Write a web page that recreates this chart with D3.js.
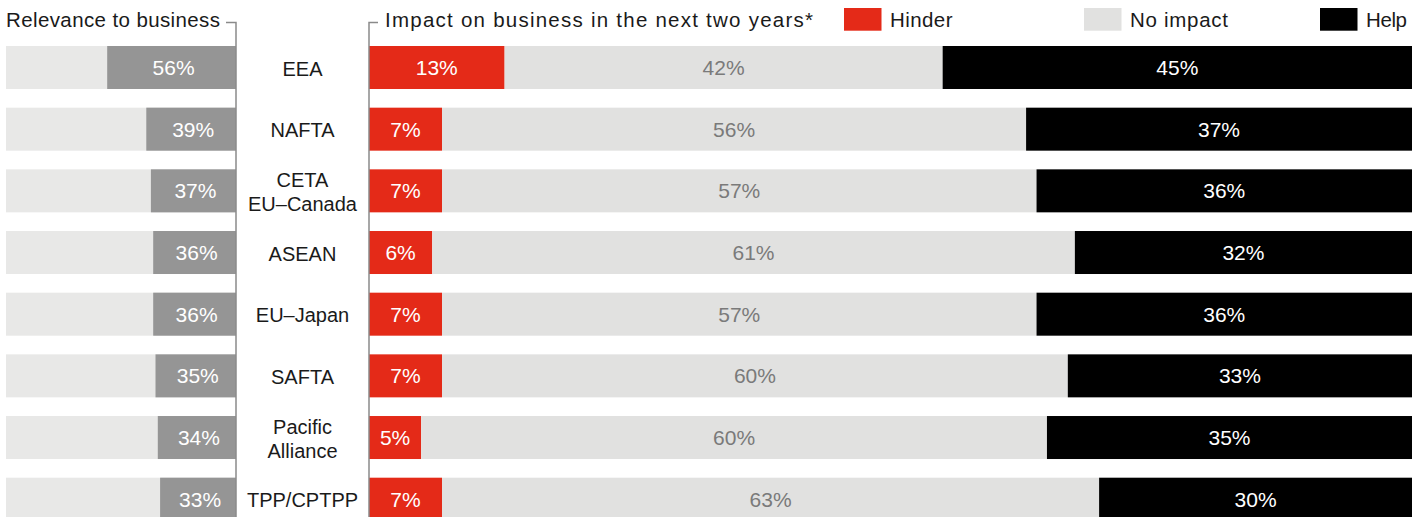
<!DOCTYPE html>
<html><head><meta charset="utf-8">
<script src="https://cdn.jsdelivr.net/npm/d3@7"></script>
<style>
html,body{margin:0;padding:0;background:#fff;}
svg{display:block;font-family:"Liberation Sans",Arial,sans-serif;}
</style></head>
<body><svg id="c" width="1425" height="517"></svg>
<script>
const categories = ["EEA","NAFTA","CETA\nEU–Canada","ASEAN","EU–Japan","SAFTA","Pacific\nAlliance","TPP/CPTPP"];
const relevance = [56,39,37,36,36,35,34,33];
const hinder    = [13,7,7,6,7,7,5,7];
const noImpact  = [42,56,57,61,57,60,60,63];
const help      = [45,37,36,32,36,33,35,30];
const seriesNames = ["Hinder","No impact","Help"];
const seriesColors = ["#e42a18","#e1e1e0","#000000"];
const labelColors = ["#ffffff","#7a7a7a","#ffffff"];

const svg = d3.select("#c");
const step = 61.67, pad = 0.3027;
const y = d3.scaleBand().domain(categories)
  .range([46, 46 + step*(categories.length - pad)]).paddingInner(pad).paddingOuter(0);
const bh = y.bandwidth();

// Left chart: relevance
const xL = d3.scaleLinear().domain([0,100]).range([236, 6]);
const gL = svg.append("g");
gL.selectAll("rect.bg").data(categories).join("rect")
  .attr("x", xL(100)).attr("y", d=>y(d)).attr("width", xL(0)-xL(100)).attr("height", bh)
  .attr("fill","#e8e8e7");
gL.selectAll("rect.v").data(relevance).join("rect")
  .attr("x", d=>xL(d)).attr("y", (d,i)=>y(categories[i])).attr("width", d=>xL(0)-xL(d)).attr("height", bh)
  .attr("fill","#959595");
gL.selectAll("text").data(relevance).join("text")
  .attr("x", d=>(xL(d)+xL(0))/2 + 2).attr("y", (d,i)=>y(categories[i])+bh/2)
  .attr("dy","0.36em").attr("text-anchor","middle").attr("fill","#fff")
  .attr("font-size",21).text(d=>d+"%");

// Right chart: stacked impact
const x0 = 369, x1 = 1412;
const rows = categories.map((c,i)=>{
  const vals=[hinder[i],noImpact[i],help[i]];
  const tot=d3.sum(vals);
  const xs=d3.scaleLinear().domain([0,tot]).range([x0,x1]);
  let acc=0;
  return vals.map((v,k)=>{const s=acc; acc+=v; return {cat:c,k,v,a:xs(s),b:xs(acc)};});
});
const gR = svg.append("g");
rows.forEach(r=>{
  gR.selectAll(null).data(r).join("rect")
    .attr("x",d=>d.a).attr("y",d=>y(d.cat)).attr("width",d=>d.b-d.a).attr("height",bh)
    .attr("fill",d=>seriesColors[d.k]);
  gR.selectAll(null).data(r).join("text")
    .attr("x",d=>(d.a+d.b)/2).attr("y",d=>y(d.cat)+bh/2).attr("dy","0.36em")
    .attr("text-anchor","middle").attr("fill",d=>labelColors[d.k])
    .attr("font-size",21).text(d=>d.v+"%");
});

// Category labels
const gC = svg.append("g");
categories.forEach(c=>{
  const lines=c.split("\n");
  const cy=y(c)+bh/2+1;
  const t=gC.append("text").attr("text-anchor","middle").attr("fill","#1a1a1a").attr("font-size",20);
  lines.forEach((ln,j)=>{
    t.append("tspan").attr("x",302.5).attr("y",cy+(j-(lines.length-1)/2)*24.4).attr("dy","0.36em").text(ln);
  });
});

// Separator lines
svg.append("path").attr("d","M226,22.5H236V517").attr("fill","none").attr("stroke","#8a8a8a").attr("stroke-width",1.5);
svg.append("path").attr("d","M378,22.5H369V517").attr("fill","none").attr("stroke","#8a8a8a").attr("stroke-width",1.5);

// Titles
svg.append("text").attr("x",6).attr("y",27).attr("font-size",20.5).attr("fill","#1a1a1a")
  .attr("textLength",214).attr("lengthAdjust","spacing").text("Relevance to business");
svg.append("text").attr("x",385).attr("y",27).attr("font-size",20.5).attr("fill","#1a1a1a")
  .attr("textLength",428).attr("lengthAdjust","spacing").text("Impact on business in the next two years*");

// Legend
const legX=[844,1084,1320];
const legW=[62.5,98,41];
const lg=svg.append("g");
lg.selectAll("rect").data(seriesNames).join("rect")
  .attr("x",(d,i)=>legX[i]).attr("y",8).attr("width",37.5).attr("height",22.7)
  .attr("fill",(d,i)=>seriesColors[i]);
lg.selectAll("text").data(seriesNames).join("text")
  .attr("x",(d,i)=>legX[i]+46).attr("y",27).attr("font-size",20.5).attr("fill","#1a1a1a")
  .attr("textLength",(d,i)=>legW[i]).attr("lengthAdjust","spacing").text(d=>d);
</script></body></html>
